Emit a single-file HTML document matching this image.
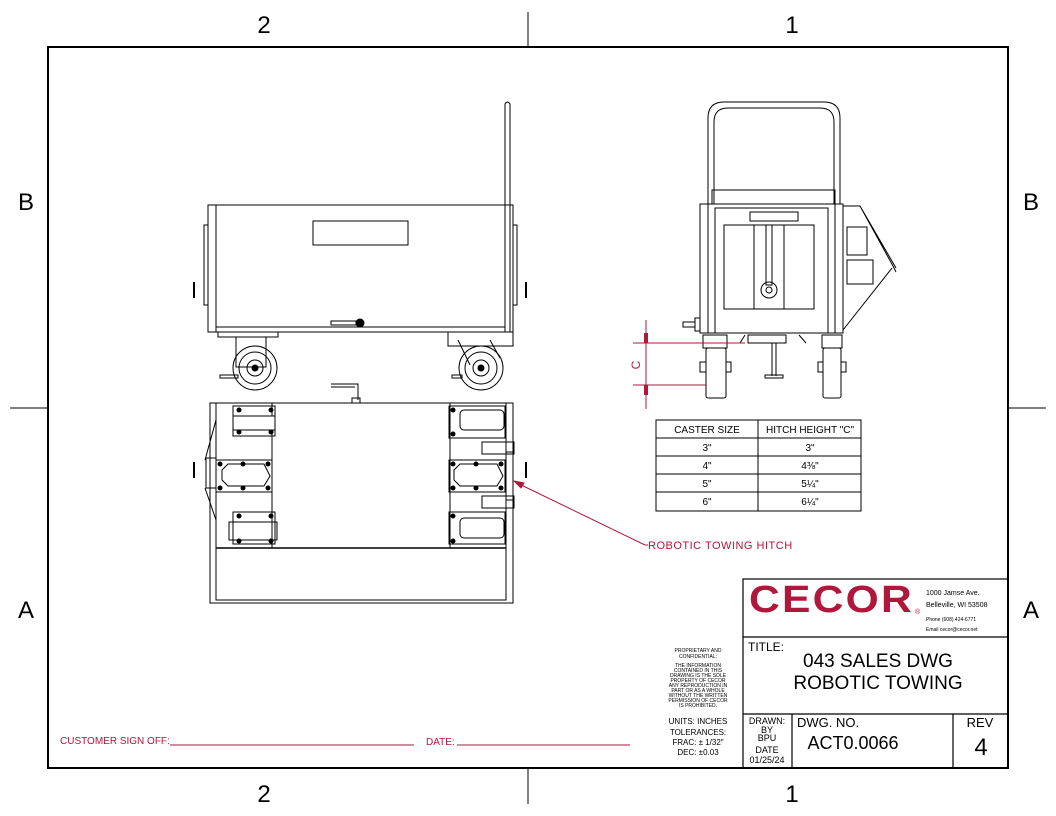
<!DOCTYPE html>
<html><head><meta charset="utf-8"><style>
html,body{margin:0;padding:0;background:#fff;}
svg{display:block;}
text{font-family:"Liberation Sans",sans-serif;}
</style></head><body>
<svg width="1056" height="816" viewBox="0 0 1056 816" xmlns="http://www.w3.org/2000/svg">
<g stroke="#000" fill="none" stroke-width="1">
<!-- border -->
<rect x="48" y="47" width="960" height="721" stroke-width="2"/>
<line x1="528" y1="12" x2="528" y2="47"/><line x1="528" y1="768" x2="528" y2="804"/>
<line x1="10" y1="408" x2="48" y2="408"/><line x1="1008" y1="408" x2="1046" y2="408"/>
</g>
<g font-size="24" fill="#000" text-anchor="middle">
<text x="264" y="33">2</text><text x="792" y="33">1</text>
<text x="264" y="802">2</text><text x="792" y="802">1</text>
<text x="26" y="210">B</text><text x="1031" y="210">B</text>
<text x="26" y="618">A</text><text x="1031" y="618">A</text>
</g>

<!-- side view -->
<g stroke="#000" fill="none" stroke-width="1">
<rect x="208" y="205" width="305" height="127"/>
<line x1="216" y1="205" x2="216" y2="332"/><line x1="505" y1="205" x2="505" y2="332"/>
<line x1="216" y1="327" x2="505" y2="327"/>
<rect x="313" y="221" width="95" height="24"/>
<rect x="204" y="225" width="4" height="80"/><rect x="513" y="225" width="4" height="80"/>
<path d="M505 205 V104 Q507.5 100 510 104 V332"/>
<line x1="194" y1="282" x2="194" y2="298" stroke-width="2"/><line x1="526" y1="282" x2="526" y2="298" stroke-width="2"/>
<rect x="331" y="321" width="25" height="4"/><circle cx="360" cy="323" r="4" fill="#000"/>
<rect x="218" y="332" width="60" height="5"/><rect x="448" y="332" width="65" height="14"/>
<rect x="236" y="337" width="30" height="30"/>
<circle cx="255" cy="368" r="22"/><circle cx="255" cy="368" r="16"/><circle cx="255" cy="368" r="8"/><circle cx="255" cy="368" r="3" fill="#000"/>
<circle cx="481" cy="368" r="22"/><circle cx="481" cy="368" r="16"/><circle cx="481" cy="368" r="8"/><circle cx="481" cy="368" r="3" fill="#000"/>
<path d="M458 340 L470 365 M490 340 L500 358"/>
<rect x="220" y="375" width="18" height="3"/><rect x="452" y="375" width="10" height="3"/>
</g>

<!-- top view -->
<g stroke="#000" fill="none" stroke-width="1">
<rect x="210" y="403" width="303" height="200"/>
<rect x="216" y="403" width="290" height="197"/>
<line x1="216" y1="548" x2="506" y2="548" stroke-width="1.5"/>
<rect x="272" y="403" width="178" height="145"/>
<path d="M331 384 H358 V400 M331 387 H355"/><rect x="352" y="398" width="8" height="5"/>
<line x1="194" y1="462" x2="194" y2="478" stroke-width="2"/><line x1="526" y1="462" x2="526" y2="478" stroke-width="2"/>
<rect x="233" y="406" width="42" height="30"/><rect x="233" y="416" width="42" height="14" fill="#fff"/>
<rect x="229" y="522" width="48" height="18"/><rect x="233" y="512" width="42" height="32"/>
<rect x="216" y="460" width="56" height="32"/><path d="M222 470 L228 464 H264 L270 476 L264 486 H228 L222 480Z"/>
<rect x="449" y="460" width="56" height="32"/><path d="M454 470 L460 464 H497 L503 476 L497 486 H460 L454 480Z"/>
<rect x="449" y="406" width="56" height="32"/><rect x="460" y="410" width="44" height="20" rx="4"/>
<rect x="449" y="512" width="56" height="32"/><rect x="460" y="518" width="44" height="20" rx="4"/>
<rect x="482" y="442" width="32" height="12"/><rect x="482" y="496" width="32" height="12"/>
<rect x="506" y="452" width="7" height="48"/>
<rect x="206" y="458" width="10" height="30"/>
<path d="M216 420 L205 460 M216 520 L205 488"/>
</g>
<g fill="#000">
<circle cx="239" cy="410" r="2.5"/><circle cx="271" cy="410" r="2.5"/><circle cx="239" cy="432" r="2.5"/><circle cx="271" cy="432" r="2.5"/>
<circle cx="239" cy="516" r="2.5"/><circle cx="271" cy="516" r="2.5"/><circle cx="239" cy="541" r="2.5"/><circle cx="271" cy="541" r="2.5"/>
<circle cx="220" cy="464" r="2.5"/><circle cx="243" cy="464" r="2.5"/><circle cx="268" cy="464" r="2.5"/><circle cx="220" cy="488" r="2.5"/><circle cx="243" cy="488" r="2.5"/><circle cx="268" cy="488" r="2.5"/>
<circle cx="453" cy="464" r="2.5"/><circle cx="476" cy="464" r="2.5"/><circle cx="501" cy="464" r="2.5"/><circle cx="453" cy="488" r="2.5"/><circle cx="476" cy="488" r="2.5"/><circle cx="501" cy="488" r="2.5"/>
<circle cx="453" cy="410" r="2.5"/><circle cx="453" cy="434" r="2.5"/><circle cx="453" cy="516" r="2.5"/><circle cx="453" cy="541" r="2.5"/>
</g>

<!-- hitch callout -->
<g stroke="#b0173a" fill="none">
<line x1="515" y1="482" x2="645" y2="545"/><line x1="645" y1="545" x2="648" y2="545"/>
<path d="M514 481 L524 483 L521 488Z" fill="#b0173a"/>
</g>
<text x="648" y="549" font-size="11" fill="#b0173a" letter-spacing="0.5">ROBOTIC TOWING HITCH</text>

<!-- front view -->
<g stroke="#000" fill="none" stroke-width="1">
<path d="M708 204 V118 Q708 102 724 102 H824 Q840 102 840 118 V204"/>
<path d="M714 204 V122 Q714 108 728 108 H820 Q834 108 834 122 V204"/>
<rect x="712" y="190" width="123" height="14"/>
<rect x="700" y="204" width="143" height="129"/>
<rect x="715" y="208" width="113" height="125"/>
<line x1="708" y1="204" x2="708" y2="333"/><line x1="835" y1="204" x2="835" y2="333"/>
<rect x="750" y="212" width="48" height="9"/>
<rect x="724" y="225" width="90" height="84"/>
<line x1="754" y1="225" x2="754" y2="309"/><line x1="784" y1="225" x2="784" y2="309"/>
<rect x="766" y="225" width="6" height="60"/>
<circle cx="769" cy="290" r="8"/><circle cx="769" cy="290" r="3"/>
<path d="M843 206 H860 L893 266 L896 272 M860 206 L896 268"/>
<path d="M843 330 L892 268"/>
<rect x="847" y="227" width="20" height="28"/><rect x="847" y="260" width="26" height="24"/>
<rect x="683" y="322" width="12" height="5"/><rect x="695" y="318" width="5" height="13"/>
<rect x="748" y="335" width="38" height="8"/>
<line x1="772" y1="343" x2="772" y2="376"/><line x1="776" y1="343" x2="776" y2="376"/>
<rect x="765" y="375" width="18" height="3"/>
<path d="M745 335 L740 343 M799 335 L806 343"/>
<rect x="703" y="335" width="24" height="13"/><rect x="822" y="335" width="20" height="13"/>
<rect x="706" y="348" width="20" height="50" rx="2"/><rect x="823" y="348" width="18" height="50" rx="2"/>
<rect x="700" y="362" width="6" height="10"/><rect x="726" y="362" width="5" height="10"/>
<rect x="818" y="362" width="5" height="10"/><rect x="841" y="362" width="5" height="10"/>
</g>
<g stroke="#b0173a" fill="none">
<line x1="646" y1="320" x2="646" y2="409"/>
<line x1="633" y1="343" x2="745" y2="343"/><line x1="633" y1="385" x2="706" y2="385"/>
</g>
<path d="M644 333 h4 v10 h-4z M644 385 h4 v10 h-4z" fill="#b0173a"/>
<text x="640" y="365" font-size="12" fill="#b0173a" transform="rotate(-90 640 365)" text-anchor="middle">C</text>

<!-- table -->
<g stroke="#000" fill="none">
<rect x="656" y="420" width="205" height="91"/>
<line x1="758" y1="420" x2="758" y2="511"/>
<line x1="656" y1="438" x2="861" y2="438"/><line x1="656" y1="456" x2="861" y2="456"/>
<line x1="656" y1="474" x2="861" y2="474"/><line x1="656" y1="492" x2="861" y2="492"/>
</g>
<g font-size="10" text-anchor="middle" fill="#000">
<text x="707" y="433">CASTER SIZE</text><text x="810" y="433">HITCH HEIGHT "C"</text>
<text x="707" y="451">3"</text><text x="810" y="451">3"</text>
<text x="707" y="469">4"</text><text x="810" y="469">4⅜"</text>
<text x="707" y="487">5"</text><text x="810" y="487">5¼"</text>
<text x="707" y="505">6"</text><text x="810" y="505">6¼"</text>
</g>

<!-- title block -->
<g stroke="#000" fill="none" stroke-width="1.2">
<rect x="743" y="579" width="265" height="189"/>
<line x1="743" y1="637" x2="1008" y2="637"/>
<line x1="743" y1="714" x2="1008" y2="714"/>
<line x1="792" y1="714" x2="792" y2="768"/>
<line x1="953" y1="714" x2="953" y2="768"/>
</g>
<text x="749" y="612" font-size="38" font-weight="bold" fill="#b0173a" letter-spacing="2" textLength="165" lengthAdjust="spacingAndGlyphs">CECOR</text>
<text x="915" y="614" font-size="7" fill="#b0173a">®</text>
<g font-size="7" fill="#000">
<text x="926" y="595">1000 Jamse Ave.</text>
<text x="926" y="607">Belleville, WI 53508</text>
<text x="926" y="621" font-size="5">Phone (608) 424-6771</text>
<text x="926" y="631" font-size="5">Email cecor@cecor.net</text>
</g>
<text x="748" y="651" font-size="12">TITLE:</text>
<text x="878" y="667" font-size="19" text-anchor="middle">043 SALES DWG</text>
<text x="878" y="689" font-size="19" text-anchor="middle">ROBOTIC TOWING</text>
<g font-size="9" text-anchor="middle" fill="#000">
<text x="767" y="724">DRAWN:</text><text x="767" y="733">BY</text><text x="767" y="741">BPU</text>
<text x="767" y="753">DATE</text><text x="767" y="763">01/25/24</text>
</g>
<text x="797" y="727" font-size="13">DWG. NO.</text>
<text x="853" y="749" font-size="18" text-anchor="middle">ACT0.0066</text>
<text x="980" y="727" font-size="13" text-anchor="middle">REV</text>
<text x="981" y="755" font-size="24" text-anchor="middle">4</text>
<g font-size="5" text-anchor="middle" fill="#000">
<text x="698" y="652">PROPRIETARY AND</text><text x="698" y="658">CONFIDENTIAL:</text>
<text x="698" y="667">THE INFORMATION</text><text x="698" y="672">CONTAINED IN THIS</text><text x="698" y="677">DRAWING IS THE SOLE</text>
<text x="698" y="682">PROPERTY OF CECOR</text><text x="698" y="687">ANY REPRODUCTION IN</text><text x="698" y="692">PART OR AS A WHOLE</text>
<text x="698" y="697">WITHOUT THE WRITTEN</text><text x="698" y="702">PERMISSION OF CECOR</text><text x="698" y="707">IS PROHIBITED.</text>
</g>
<g font-size="8" text-anchor="middle" fill="#000">
<text x="698" y="724">UNITS: INCHES</text><text x="698" y="735">TOLERANCES:</text>
<text x="698" y="745">FRAC: ± 1/32"</text><text x="698" y="755">DEC: ±0.03</text>
</g>

<!-- sign off -->
<text x="60" y="744" font-size="10" fill="#b0173a">CUSTOMER SIGN OFF:</text>
<line x1="170" y1="745" x2="414" y2="745" stroke="#b0173a"/>
<text x="426" y="745" font-size="10" fill="#b0173a">DATE:</text>
<line x1="457" y1="745" x2="630" y2="745" stroke="#b0173a"/>
</svg>
</body></html>
